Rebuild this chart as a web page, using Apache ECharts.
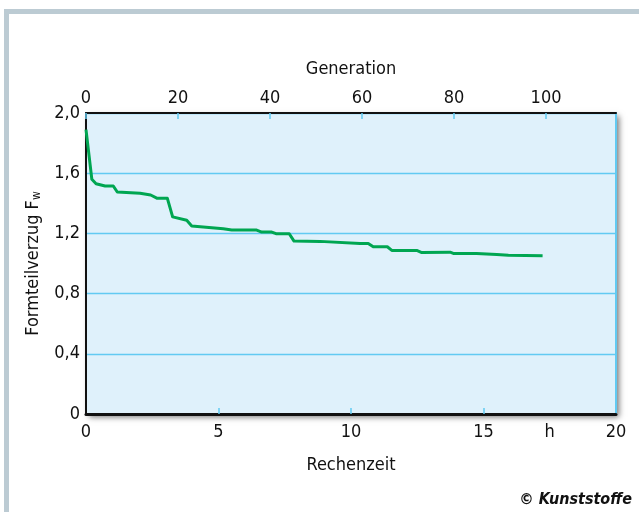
<!DOCTYPE html>
<html>
<head>
<meta charset="utf-8">
<script src="https://cdn.jsdelivr.net/npm/echarts@6/dist/echarts.min.js"></script>
<style>html,body{margin:0;padding:0;background:#fff;}#c{width:639px;height:512px;}</style>
</head>
<body>
<div id="c"></div>
<script>
// Rechenzeit in hours
const timeHours = [0, 0.22, 0.38, 0.72, 1.03, 1.18, 2.04, 2.44, 2.69, 3.07, 3.27, 3.80, 3.99, 5.18, 5.50, 6.44, 6.63, 7.01, 7.17, 7.67, 7.85, 8.83, 10.34, 10.65, 10.84, 11.37, 11.54, 12.48, 12.67, 13.74, 13.86, 14.74, 15.50, 15.94, 17.23];
// Formteilverzug F_w
const formteilverzug = [1.89, 1.56, 1.53, 1.515, 1.515, 1.475, 1.467, 1.455, 1.433, 1.433, 1.31, 1.287, 1.249, 1.231, 1.222, 1.222, 1.209, 1.209, 1.198, 1.198, 1.149, 1.147, 1.133, 1.133, 1.111, 1.111, 1.087, 1.087, 1.073, 1.075, 1.067, 1.067, 1.06, 1.055, 1.051];
const timeLabels = [0, 5, 10, 15, 17.5, 20];
const timeTicks = [5, 10, 15];
const generationMax = 115.2;

const FONT = '"Liberation Sans Narrow", "DejaVu Sans Condensed", sans-serif';
const GRID_BLUE = '#62caf2';

const chart = echarts.init(document.getElementById('c'), null, {renderer: 'canvas'});
chart.setOption({
  animation: false,
  backgroundColor: '#ffffff',
  textStyle: {fontFamily: FONT},
  graphic: [
    {type: 'rect', shape: {x: 4, y: 9, width: 635, height: 5}, style: {fill: '#bccbd3'}},
    {type: 'rect', shape: {x: 4, y: 9, width: 5, height: 503}, style: {fill: '#bccbd3'}},
    {type: 'text', right: 7, top: 492, style: {text: '© Kunststoffe', font: 'italic bold 16px ' + FONT, fill: '#111'}}
  ],
  grid: {
    left: 86, right: 23, top: 113, bottom: 98,
    show: true, backgroundColor: '#dff1fb', borderWidth: 0,
    shadowColor: 'rgba(0,0,0,0.55)', shadowBlur: 6, shadowOffsetX: 3, shadowOffsetY: 3
  },
  xAxis: [
    {
      type: 'value', position: 'bottom', min: 0, max: 20,
      name: 'Rechenzeit', nameLocation: 'middle', nameGap: 42,
      nameTextStyle: {fontSize: 18, color: '#111', fontFamily: FONT},
      axisLine: {show: true, onZero: false, lineStyle: {color: '#111', width: 3}},
      axisTick: {show: true, inside: true, length: 6, customValues: timeTicks, lineStyle: {color: GRID_BLUE, width: 1.5}},
      axisLabel: {customValues: timeLabels, margin: 9, fontSize: 18, color: '#111', fontFamily: FONT,
        formatter: v => (v === 17.5 ? 'h' : String(v))},
      splitLine: {show: false}
    },
    {
      type: 'value', position: 'top', min: 0, max: generationMax, interval: 20,
      name: 'Generation', nameLocation: 'middle', nameGap: 35,
      nameTextStyle: {fontSize: 18, color: '#111', fontFamily: FONT},
      axisLine: {show: true, onZero: false, lineStyle: {color: '#111', width: 2}},
      axisTick: {show: true, inside: true, length: 6, lineStyle: {color: GRID_BLUE, width: 1.5}},
      axisLabel: {margin: 6, fontSize: 18, color: '#111', fontFamily: FONT, showMaxLabel: false},
      splitLine: {show: false}
    }
  ],
  yAxis: [
    {
      type: 'value', position: 'left', min: 0, max: 2, interval: 0.4,
      name: 'Formteilverzug F{sub|w}', nameLocation: 'middle', nameGap: 37,
      nameTextStyle: {fontSize: 18, color: '#111', fontFamily: FONT,
        rich: {sub: {fontSize: 12, color: '#111', fontFamily: FONT, padding: [8, 0, 0, 0]}}},
      axisLine: {show: true, onZero: false, lineStyle: {color: '#111', width: 2}},
      axisTick: {show: false},
      axisLabel: {margin: 6, fontSize: 18, color: '#111', fontFamily: FONT,
        formatter: v => (v === 0 ? '0' : v.toFixed(1).replace('.', ','))},
      splitLine: {show: true, lineStyle: {color: GRID_BLUE, width: 1.4}}
    },
    {
      type: 'value', position: 'right', min: 0, max: 2, interval: 0.4,
      axisLine: {show: true, onZero: false, lineStyle: {color: GRID_BLUE, width: 2}},
      axisTick: {show: false}, axisLabel: {show: false}, splitLine: {show: false}
    }
  ],
  series: [{
    type: 'line', xAxisIndex: 0, yAxisIndex: 0,
    data: timeHours.map((t, i) => [t, formteilverzug[i]]),
    showSymbol: false, symbol: 'none',
    lineStyle: {color: '#00a651', width: 3, join: 'round'},
    z: 5
  }]
});
</script>
</body>
</html>
